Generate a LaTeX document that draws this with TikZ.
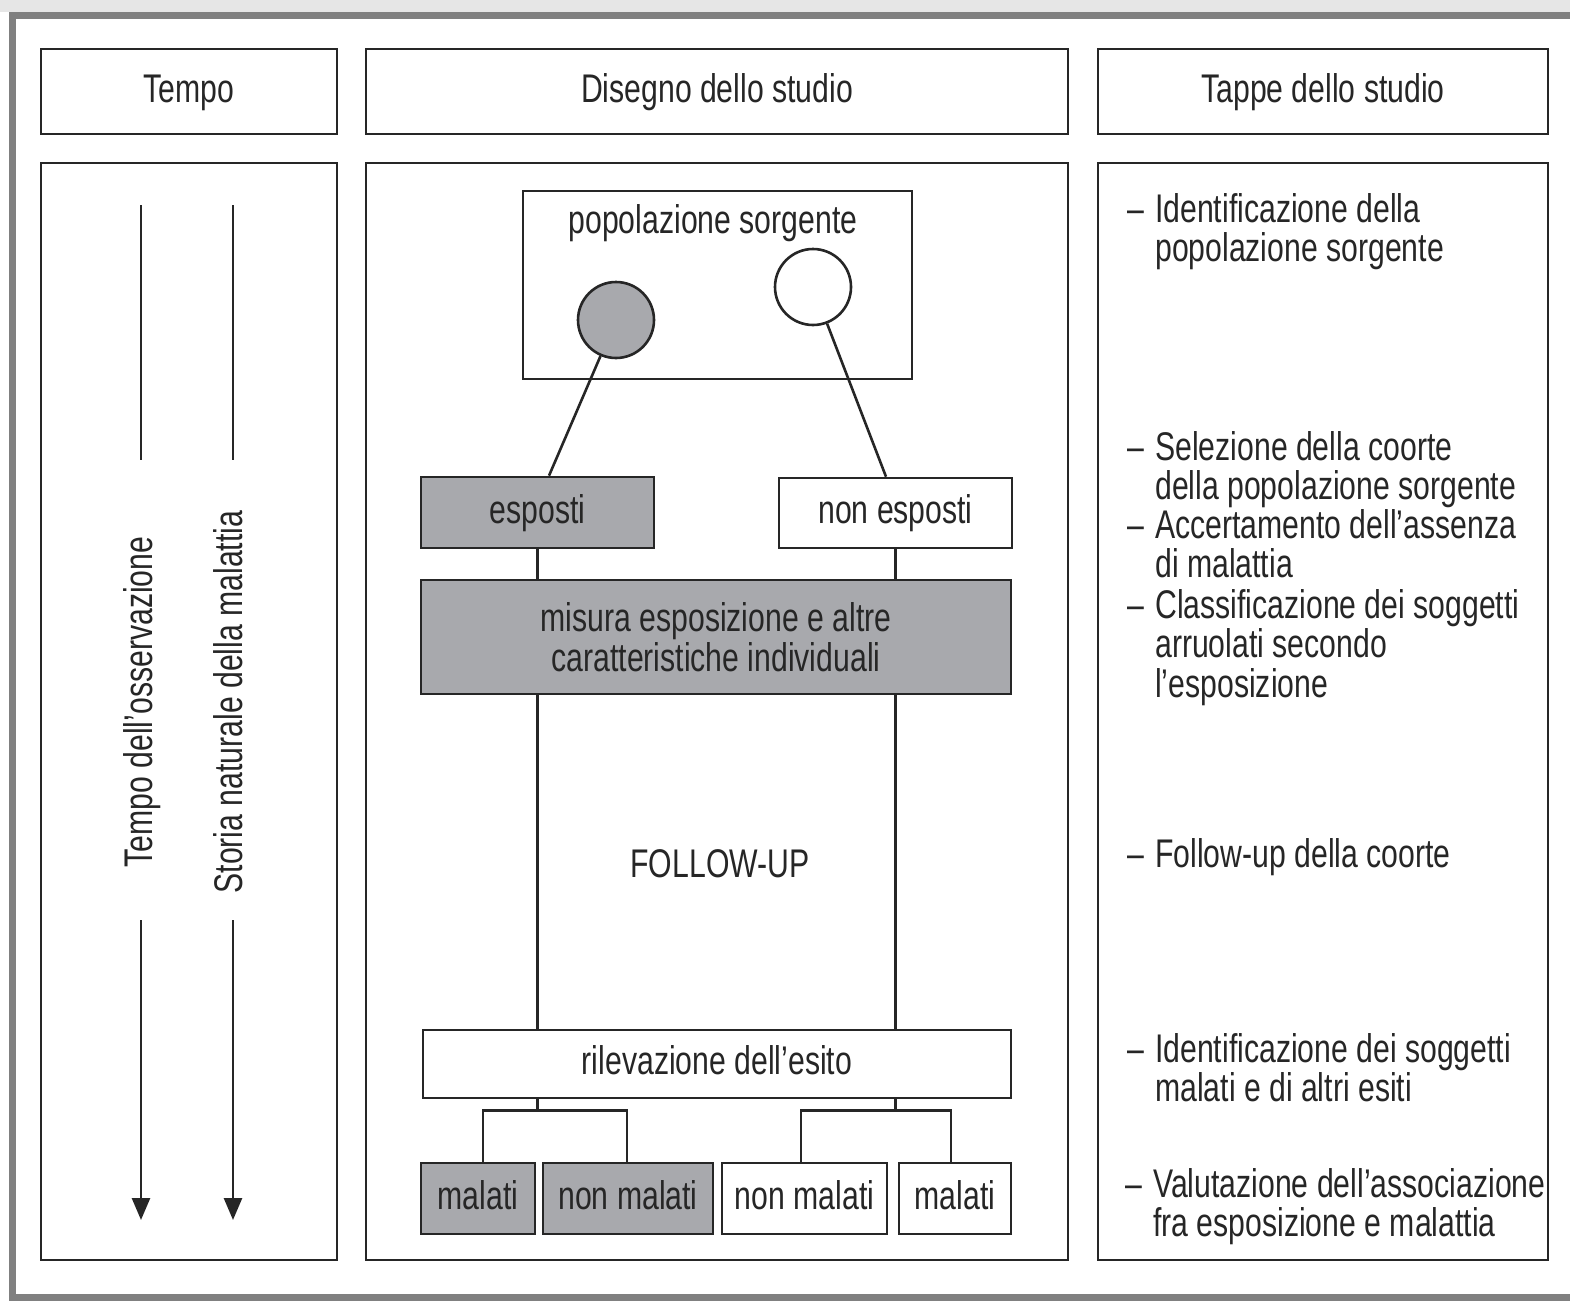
\documentclass[tikz,border=0pt]{standalone}
\usepackage{fontspec}
\setmainfont{Liberation Sans}[FakeStretch=0.755]
\usetikzlibrary{arrows.meta,calc}
\definecolor{ink}{RGB}{38,38,38}
\definecolor{shade}{RGB}{168,169,173}
\definecolor{framegray}{RGB}{128,128,128}
\definecolor{band}{RGB}{230,230,230}

\begin{document}
\begin{tikzpicture}[x=1pt,y=-1pt,
  font=\fontsize{40}{39.5}\selectfont,
  every node/.style={text=ink},
  cell/.style={draw=ink, line width=2.6pt, inner sep=0pt,
    text height=29pt, text depth=8pt},
  panel/.style={draw=ink, line width=2.6pt, inner sep=0pt},
  dark/.style={fill=shade},
  blob/.style={circle, draw=ink, line width=2.6pt, inner sep=0pt, minimum size=76pt},
  wire/.style={draw=ink, line width=2.6pt},
  timearrow/.style={wire, -{Triangle[length=22pt,width=18pt]}},
  note/.style={anchor=base west, align=left, inner sep=0pt},
  dashmark/.style={anchor=base west, inner sep=0pt}
]
\useasboundingbox (0,0) rectangle (1570,1301);

% page band and outer frame
\fill[band] (0,0) rectangle (1570,12);
\draw[framegray, line width=7pt] (1575,15) -- (12,15) -- (12,1297) -- (1575,1297);

% column headers
\node[cell, minimum width=296pt, minimum height=85pt] (hT) at (189,91.5) {Tempo};
\node[cell, minimum width=702pt, minimum height=85pt] (hD) at (717,91.5) {Disegno dello studio};
\node[cell, minimum width=450pt, minimum height=85pt] (hP) at (1323,91.5) {Tappe dello studio};

% column bodies
\node[panel, minimum width=296pt, minimum height=1097pt] (bT) at (189,711.5) {};
\node[panel, minimum width=702pt, minimum height=1097pt] (bD) at (717,711.5) {};
\node[panel, minimum width=450pt, minimum height=1097pt] (bP) at (1323,711.5) {};

% time axes
\coordinate (a1top) at (141,205);
\coordinate (a1gap) at (141,460);
\coordinate (a1res) at (141,920);
\coordinate (a1end) at (141,1220);
\coordinate (a2top) at (233,205);
\coordinate (a2gap) at (233,460);
\coordinate (a2res) at (233,920);
\coordinate (a2end) at (233,1220);
\draw[wire] (a1top) -- (a1gap);
\draw[timearrow] (a1res) -- (a1end);
\draw[wire] (a2top) -- (a2gap);
\draw[timearrow] (a2res) -- (a2end);
\node[rotate=90, anchor=base, inner sep=0pt] (lab1) at (152,702) {Tempo dell’osservazione};
\node[rotate=90, anchor=base, inner sep=0pt] (lab2) at (242,702) {Storia naturale della malattia};

% study design
\node[panel, minimum width=389pt, minimum height=188pt] (pop) at (717.5,285) {};
\node[anchor=base, inner sep=0pt] (popl) at (713,233) {popolazione sorgente};
\node[blob, dark] (cE) at (616,320) {};
\node[blob, fill=white] (cN) at (813,287) {};

\node[cell, dark, minimum width=233pt, minimum height=71pt] (esp) at (537.5,512.5) {esposti};
\node[cell, minimum width=233pt, minimum height=70pt] (nesp) at (895.5,513) {non esposti};
\node[panel, dark, minimum width=590pt, minimum height=114pt, align=center] (mis) at (716,637)
  {misura esposizione e altre\\caratteristiche individuali};
\node[cell, minimum width=588pt, minimum height=68pt] (ril) at (717,1064) {rilevazione dell’esito};

\node[cell, dark, minimum width=114pt, minimum height=71pt] (m1) at (478,1198.5) {malati};
\node[cell, dark, minimum width=170pt, minimum height=71pt] (m2) at (628,1198.5) {non malati};
\node[cell, minimum width=165pt, minimum height=71pt] (m3) at (804.5,1198.5) {non malati};
\node[cell, minimum width=112pt, minimum height=71pt] (m4) at (955,1198.5) {malati};

\node[anchor=base, inner sep=0pt] (fu) at (720,877) {FOLLOW-UP};

\draw[wire] (cE) -- ($(esp.north)+(11.5,0)$);
\draw[wire] (cN) -- ($(nesp.north)+(-9.5,0)$);
\draw[wire] (esp.south) -- (esp.south |- mis.north);
\draw[wire] (nesp.south) -- (nesp.south |- mis.north);
\draw[wire] (mis.south -| esp.south) -- (ril.north -| esp.south);
\draw[wire] (mis.south -| nesp.south) -- (ril.north -| nesp.south);

\coordinate (jL) at ($(ril.south -| esp.south)+(0,11)$);
\coordinate (jR) at ($(ril.south -| nesp.south)+(0,11)$);
\draw[wire] (ril.south -| esp.south) -- (jL);
\draw[wire] (ril.south -| nesp.south) -- (jR);
\draw[wire] ($(m1.north)+(5,0)$) |- (jL) -| ($(m2.north)+(-1,0)$);
\draw[wire] ($(m3.north)+(-3.5,0)$) |- (jR) -| ($(m4.north)+(-4,0)$);

% study stages (each note is placed by the baseline of its last line)
\node[note] (s1) at (1155,261.5) {Identificazione della\\popolazione sorgente};
\node[note] (s2) at (1155,499.5) {Selezione della coorte\\della popolazione sorgente};
\node[note] (s3) at (1155,577.5) {Accertamento dell’assenza\\di malattia};
\node[note] (s4) at (1155,697) {Classificazione dei soggetti\\arruolati secondo\\l’esposizione};
\node[note] (s5) at (1155,867) {Follow-up della coorte};
\node[note] (s6) at (1155,1101.5) {Identificazione dei soggetti\\malati e di altri esiti};
\node[note] (s7) at (1153,1236.5) {Valutazione dell’associazione\\fra esposizione e malattia};

% leading dashes, on the first line of each note
\node[dashmark] (d1) at (1127,222) {–};
\node[dashmark] (d2) at (1127,460) {–};
\node[dashmark] (d3) at (1127,538) {–};
\node[dashmark] (d4) at (1127,618) {–};
\node[dashmark] (d5) at (1127,867) {–};
\node[dashmark] (d6) at (1127,1062) {–};
\node[dashmark] (d7) at (1125,1197) {–};
\end{tikzpicture}
\end{document}
